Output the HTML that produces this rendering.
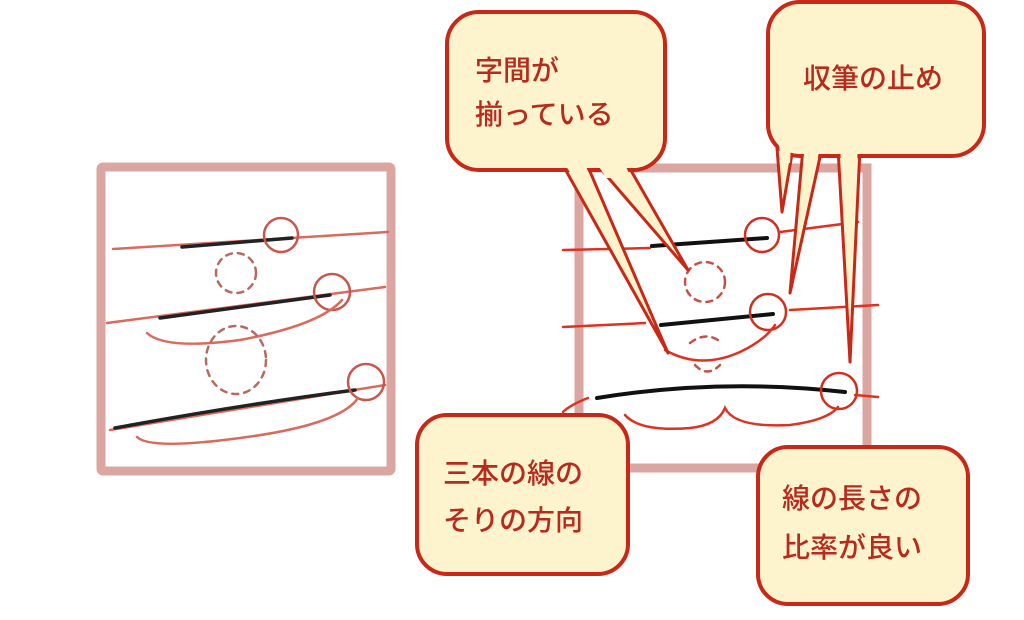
<!DOCTYPE html>
<html><head><meta charset="utf-8"><style>
html,body{margin:0;padding:0;background:#fff;width:1024px;height:620px;overflow:hidden}
svg{display:block}
text{font-family:"Liberation Sans","Noto Sans CJK JP",sans-serif;font-size:28px;fill:#b82a1e;font-weight:500}
</style></head><body>
<svg width="1024" height="620" viewBox="0 0 1024 620">
<!-- left box -->
<rect x="101" y="167" width="290" height="304" fill="#fff" stroke="#dba6a2" stroke-width="9" rx="2"/>
<g fill="none" stroke-linecap="round">
<path d="M113 249 L388 232" stroke="#d96a5e" stroke-width="2.5"/>
<path d="M182 247 L292 238" stroke="#222" stroke-width="3.5"/>
<circle cx="281" cy="235" r="17" stroke="#c8574c" stroke-width="2.5"/>
<circle cx="236" cy="273" r="20" stroke="#b86a62" stroke-width="2.5" stroke-dasharray="6 6"/>
<path d="M107 323 L385 287" stroke="#d96a5e" stroke-width="2.5"/>
<path d="M160 318 L330 295" stroke="#222" stroke-width="3.5"/>
<circle cx="332" cy="292" r="18" stroke="#c8574c" stroke-width="2.5"/>
<path d="M147 333 Q165 350 240 340 Q320 325 342 300" stroke="#d96a5e" stroke-width="2.5"/>
<ellipse cx="236" cy="360" rx="30" ry="34" stroke="#b86a62" stroke-width="2.5" stroke-dasharray="6 6"/>
<path d="M110 430 L385 385" stroke="#d96a5e" stroke-width="2.5"/>
<path d="M115 428 Q240 405 355 390" stroke="#222" stroke-width="3.5"/>
<circle cx="366" cy="382" r="18" stroke="#c8574c" stroke-width="2.5"/>
<path d="M137 437 Q150 450 240 438 Q340 425 358 398" stroke="#d96a5e" stroke-width="2.5"/>
</g>
<!-- right box -->
<rect x="579" y="168" width="288" height="300" fill="#fff" stroke="#dba6a2" stroke-width="9"/>
<g fill="none" stroke-linecap="round">
<path d="M563 250 L650 248" stroke="#e03020" stroke-width="2.5"/>
<path d="M652 246 L767 238" stroke="#111" stroke-width="4"/>
<circle cx="762" cy="235" r="17" stroke="#d03020" stroke-width="2.5"/>
<path d="M780 232 L858 222" stroke="#e03020" stroke-width="2.5"/>
<circle cx="705" cy="282" r="20" stroke="#c85048" stroke-width="2.5" stroke-dasharray="6 6"/>
<path d="M563 327 L645 323" stroke="#e03020" stroke-width="2.5"/>
<path d="M661 325 L773 314" stroke="#111" stroke-width="4"/>
<circle cx="768" cy="312" r="18" stroke="#d03020" stroke-width="2.5"/>
<path d="M790 310 L878 305" stroke="#e03020" stroke-width="2.5"/>
<path d="M665 350 Q700 370 740 352 Q765 340 775 325" stroke="#e03020" stroke-width="2.5"/>
<path d="M690 343 Q707 330 722 343 M695 365 Q707 378 720 365" stroke="#c85048" stroke-width="2.5" stroke-dasharray="6 6"/>
<path d="M597 398 Q720 378 845 392" stroke="#111" stroke-width="4"/>
<circle cx="839" cy="391" r="18" stroke="#d03020" stroke-width="2.5"/>
<path d="M855 395 L878 397" stroke="#e03020" stroke-width="2.5"/>
<path d="M588 398 Q570 405 563 412 M625 415 Q640 432 690 428 Q718 425 725 408 Q735 428 790 425 Q828 420 838 407" stroke="#e03020" stroke-width="2.5"/>
</g>
<!-- tails (stroked) -->
<g stroke="#c82818" stroke-width="3" stroke-linejoin="round" fill="#fdf3cc">
<polygon points="560,160 585,160 668,353"/>
<polygon points="593,160 625,160 688,270"/>
<polygon points="777,148 793,148 782,212"/>
<polygon points="803,148 822,148 790,293"/>
<polygon points="838,148 860,148 850,362"/>
</g>
<!-- bubbles -->
<g stroke="#c82818" stroke-width="4" stroke-linejoin="round" fill="#fdf3cc">
<rect x="447" y="12" width="218" height="158" rx="32"/>
<rect x="768" y="2" width="216" height="154" rx="32"/>
<rect x="417" y="415" width="211" height="159" rx="30"/>
<rect x="758" y="447" width="210" height="157" rx="30"/>
</g>
<!-- tail fills over bubble border -->
<g fill="#fdf3cc">
<polygon points="562,160 583,160 592,180 575,180"/>
<polygon points="595,160 623,160 631,178 606,178"/>
<polygon points="779,145 791,145 790,163 781,163"/>
<polygon points="805,145 820,145 817,163 803,163"/>
<polygon points="840,145 858,145 857,163 841,163"/>
</g>
<text x="475" y="80">字間が</text>
<text x="475" y="124">揃っている</text>
<text x="803" y="88">収筆の止め</text>
<text x="443" y="483">三本の線の</text>
<text x="443" y="530">そりの方向</text>
<text x="782" y="508">線の長さの</text>
<text x="782" y="557">比率が良い</text>
</svg>
</body></html>
